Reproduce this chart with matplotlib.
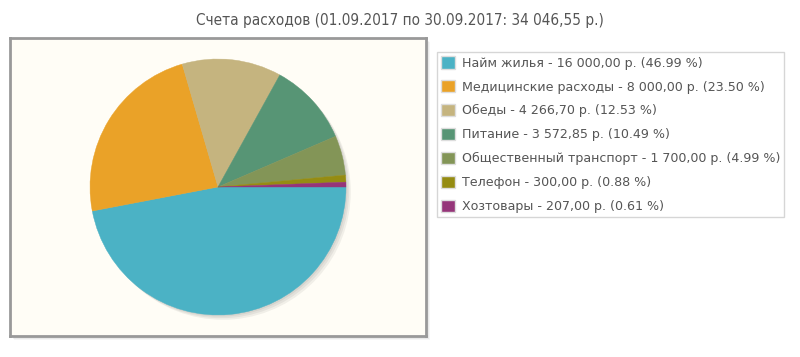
import matplotlib
matplotlib.use("Agg")
import matplotlib.pyplot as plt
from matplotlib.patches import Patch, Rectangle
import matplotlib.transforms as mtransforms

title = "Счета расходов (01.09.2017 по 30.09.2017: 34 046,55 р.)"
categories = ["Найм жилья", "Медицинские расходы", "Обеды", "Питание",
              "Общественный транспорт", "Телефон", "Хозтовары"]
values = [16000.00, 8000.00, 4266.70, 3572.85, 1700.00, 300.00, 207.00]
value_labels = ["16 000,00", "8 000,00", "4 266,70", "3 572,85", "1 700,00", "300,00", "207,00"]
percents = ["46.99", "23.50", "12.53", "10.49", "4.99", "0.88", "0.61"]
colors = ["#4bb2c5", "#eaa228", "#c5b47f", "#579575", "#839557", "#958c12", "#953579"]

W, H = 800, 357
fig = plt.figure(figsize=(W / 100, H / 100), dpi=100)
fig.patch.set_facecolor("white")

# plot area in pixels
x0, x1, y0, y1 = 10, 426, 38, 336
R = 128.0

# background axes for the frame shadow (pixel coordinates, y down)
bg = fig.add_axes([0, 0, 1, 1], zorder=-10)
bg.set_xlim(0, W)
bg.set_ylim(H, 0)
bg.axis("off")
for i, a in enumerate([0.07, 0.05, 0.035]):
    off = 1.3 * (i + 1)
    bg.add_patch(Rectangle((x0 + off, y0 + off), x1 - x0, y1 - y0,
                           facecolor=(0, 0, 0, a), edgecolor="none"))

ax = fig.add_axes([x0 / W, 1 - y1 / H, (x1 - x0) / W, (y1 - y0) / H], zorder=1)
hx = (x1 - x0) / 2 / R
hy = (y1 - y0) / 2 / R

# pie shadow
for i in range(3):
    off = 1.6 * (i + 1)
    tr = mtransforms.offset_copy(ax.transData, fig=fig, x=off * 0.72, y=-off * 0.72, units="points")
    wedges, _ = ax.pie(values, startangle=0, counterclock=False, radius=1.0,
                       colors=[(0, 0, 0, 0.055)] * len(values),
                       wedgeprops=dict(linewidth=0), frame=True)
    for w in wedges:
        w.set_transform(tr)

wedges, _ = ax.pie(values, startangle=0, counterclock=False, radius=1.0, colors=colors,
                   wedgeprops=dict(linewidth=0), frame=True)
for w, c in zip(wedges, colors):
    w.set_edgecolor(c)
    w.set_linewidth(0.3)

ax.set_frame_on(True)
ax.set_facecolor("#fffdf6")
ax.set_xticks([])
ax.set_yticks([])
for s in ax.spines.values():
    s.set_visible(True)
    s.set_color("#999999")
    s.set_linewidth(2)
ax.set_xlim(-hx, hx)
ax.set_ylim(-hy, hy)
ax.set_aspect("auto")

fig.text(0.5, 1 - 20 / H, title, ha="center", va="center", fontsize=11,
         color="#555555", family="DejaVu Sans", fontstretch="condensed")

labels = [f"{c} - {v} р. ({p} %)" for c, v, p in zip(categories, value_labels, percents)]
handles = [Patch(facecolor=c, edgecolor="#dddddd", linewidth=1) for c in colors]
fs = 9.1
leg = fig.legend(handles, labels, loc="upper left", bbox_to_anchor=(437 / W, 1 - 52 / H),
                 bbox_transform=fig.transFigure, fontsize=fs, frameon=True, fancybox=False,
                 edgecolor="#cccccc", handlelength=1.1, handleheight=1.1, handletextpad=0.5,
                 labelspacing=0.83, borderpad=0.35, borderaxespad=0, labelcolor="#555555")
leg.get_frame().set_linewidth(1)

fig.savefig("out.png", dpi=100, facecolor="white")
